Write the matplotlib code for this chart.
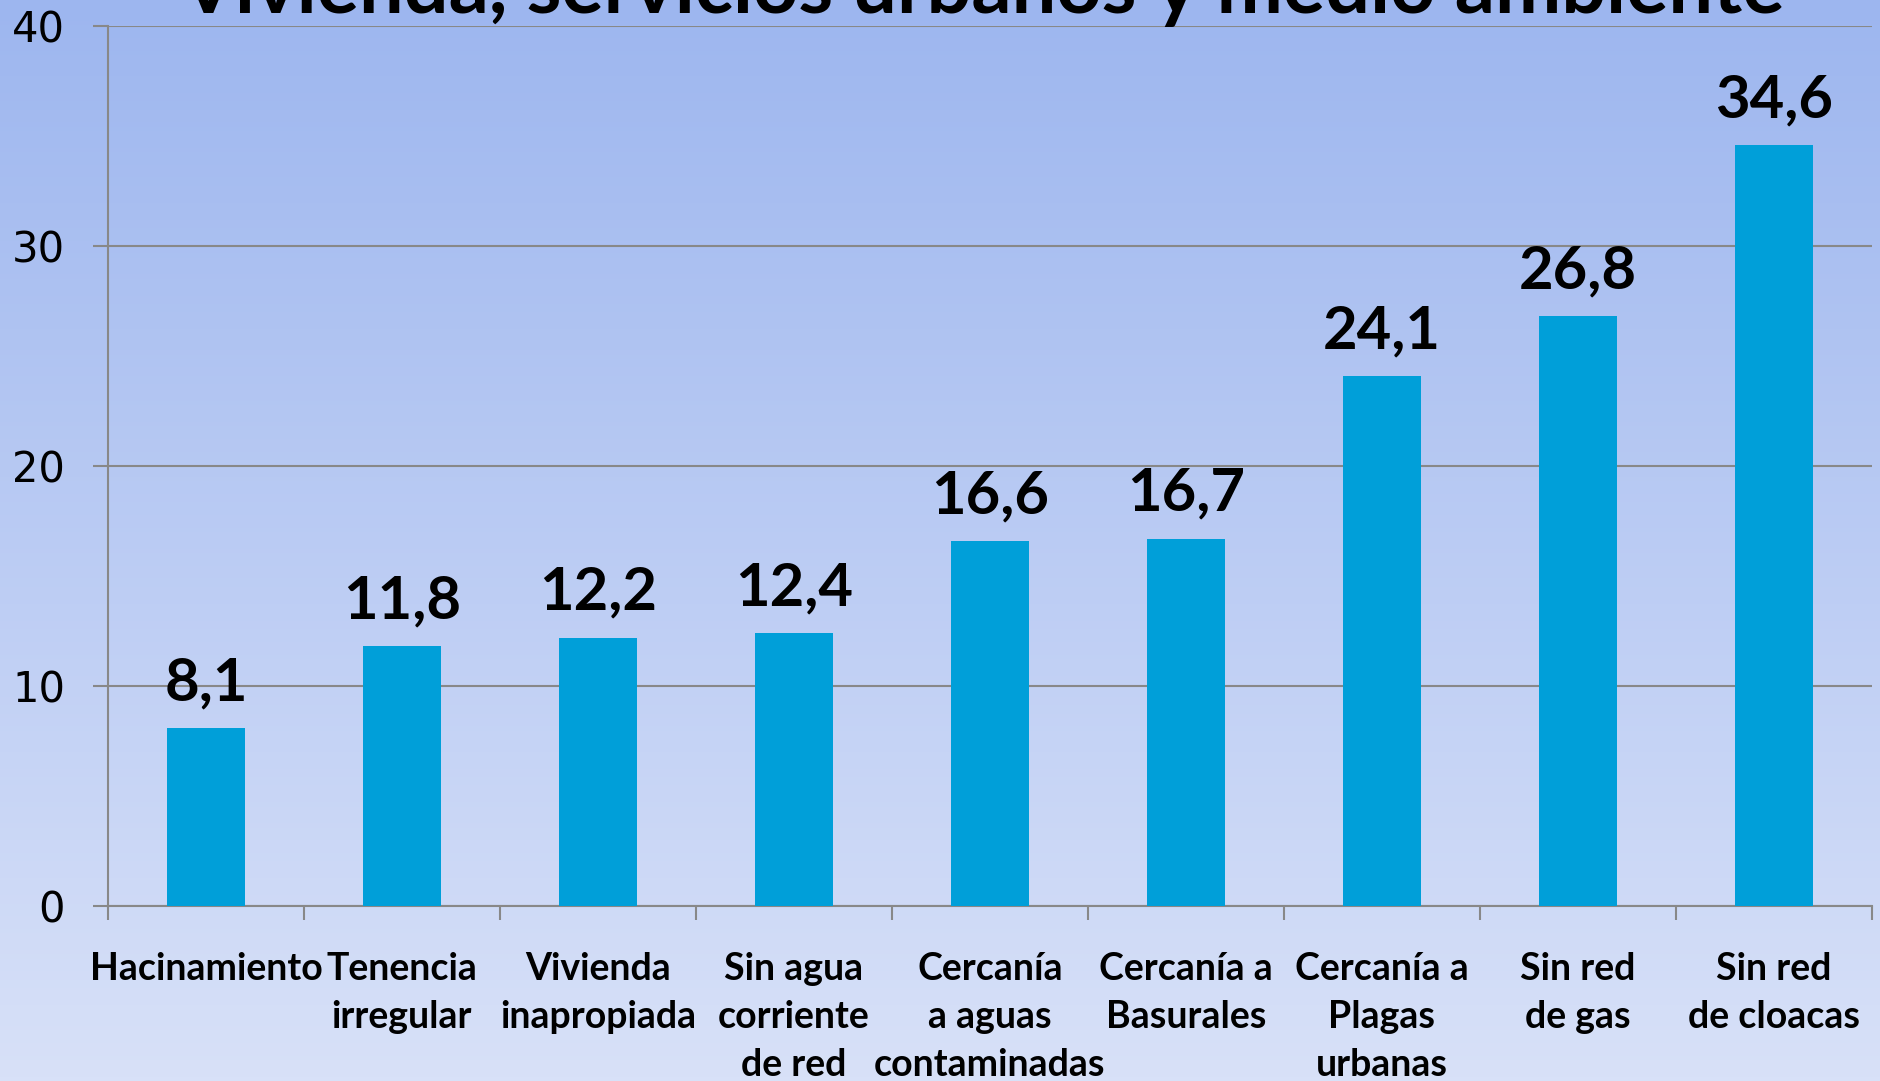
import matplotlib
matplotlib.use("Agg")
import matplotlib.pyplot as plt
import numpy as np

titulo = "Vivienda, servicios urbanos y medio ambiente"
categorias = ["Hacinamiento", "Tenencia\nirregular", "Vivienda\ninapropiada",
              "Sin agua\ncorriente\nde red", "Cercanía\na aguas\ncontaminadas",
              "Cercanía a\nBasurales", "Cercanía a\nPlagas\nurbanas",
              "Sin red\nde gas", "Sin red\nde cloacas"]
valores = [8.1, 11.8, 12.2, 12.4, 16.6, 16.7, 24.1, 26.8, 34.6]
yticks = [0, 10, 20, 30, 40]

fig = plt.figure(figsize=(18.81, 10.81), dpi=100)

# fondo degradado
bg = fig.add_axes([0, 0, 1, 1], zorder=-10)
grad = np.linspace(0, 1, 256).reshape(-1, 1)
c_top = np.array([157, 182, 239]) / 255
c_bot = np.array([216, 225, 248]) / 255
img = c_top + grad[..., None] * (c_bot - c_top)
bg.imshow(img, aspect="auto", extent=[0, 1, 0, 1])
bg.axis("off")

ax = fig.add_axes([108 / 1881, 1 - 906 / 1081, (1872 - 108) / 1881, 880 / 1081])
ax.patch.set_alpha(0)

x = np.arange(len(valores))
ax.bar(x, valores, width=0.40, color="#009FD9", zorder=3)
ax.set_xlim(-0.5, len(valores) - 0.5)
ax.set_ylim(0, 40)
ax.set_yticks(yticks)
ax.yaxis.grid(True, color="#888888", linewidth=1.5, zorder=0)
ax.set_axisbelow(True)

for s in ["top", "right"]:
    ax.spines[s].set_visible(False)
for s in ["left", "bottom"]:
    ax.spines[s].set_color("#888888")
    ax.spines[s].set_linewidth(1.5)

ax.set_xticks(np.arange(len(valores) + 1) - 0.5, minor=True)
ax.set_xticks(x)
ax.set_xticklabels(categorias, fontfamily="Lato", fontweight="bold", fontsize=27,
                   linespacing=1.5, va="top")
ax.tick_params(axis="x", which="major", length=0, pad=33)
ax.tick_params(axis="x", which="minor", length=10, width=1.5, color="#888888")
ax.tick_params(axis="y", length=11, width=1.5, color="#888888", labelsize=30, pad=20)
for t in ax.get_yticklabels():
    t.set_fontfamily("DejaVu Sans")

for xi, v in zip(x, valores):
    ax.annotate(f"{v:.1f}".replace(".", ","), (xi, v), xytext=(0, 20),
                textcoords="offset points", ha="center", va="baseline",
                fontfamily="Lato", fontweight="bold", fontsize=43)

fig.text(983 / 1881, 1 - 13 / 1081, titulo, ha="center", va="baseline",
         fontfamily="Lato", fontweight="bold", fontsize=57)

fig.savefig("out.png", dpi=100)
